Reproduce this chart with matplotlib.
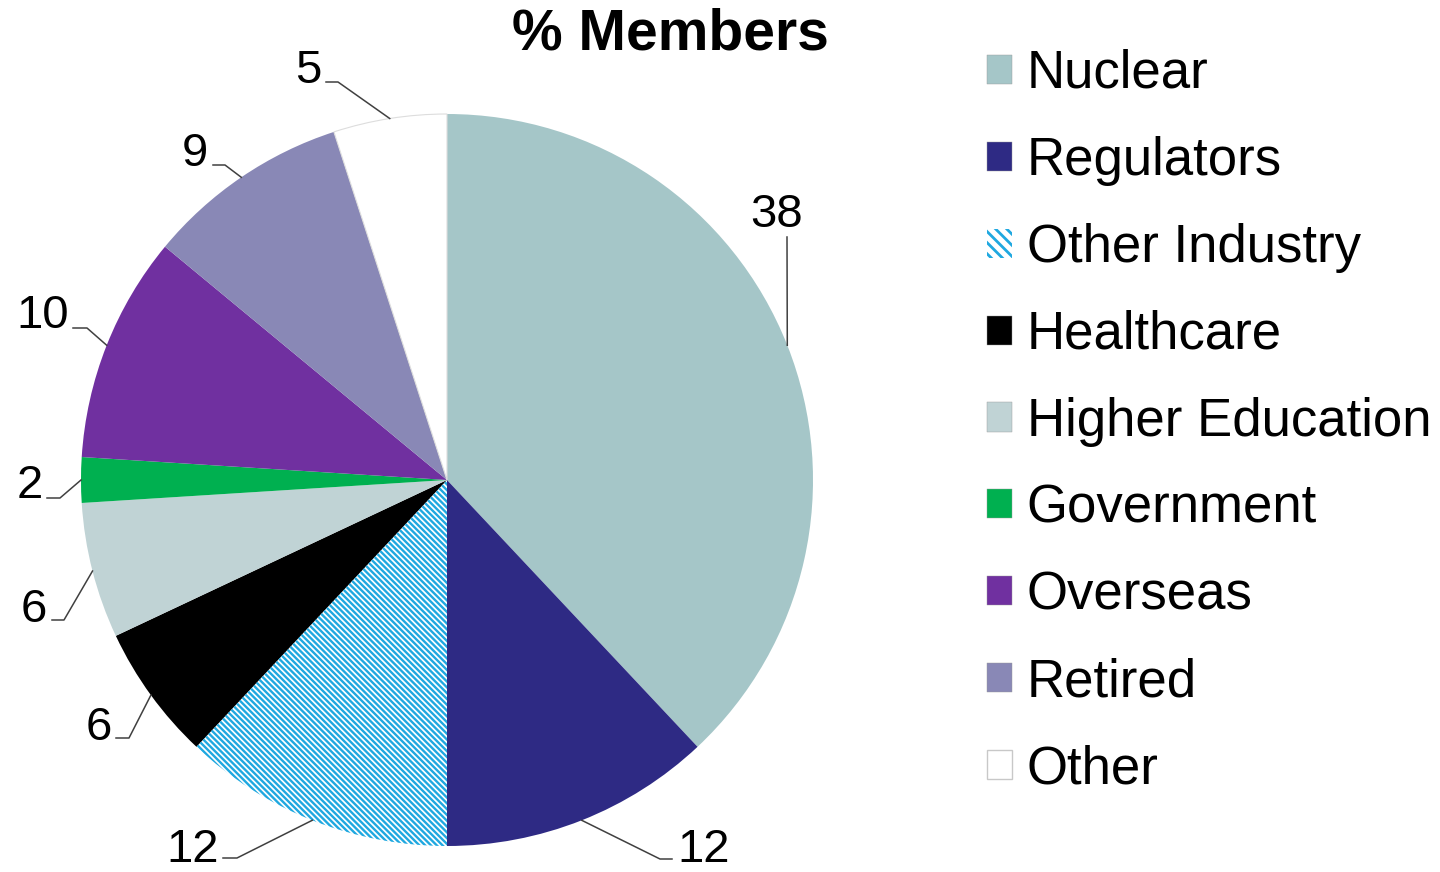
import matplotlib
matplotlib.use("Agg")
import numpy as np
import matplotlib.pyplot as plt
from matplotlib.patches import Patch
from matplotlib.collections import LineCollection

categories = ["Nuclear", "Regulators", "Other Industry", "Healthcare",
              "Higher Education", "Government", "Overseas", "Retired", "Other"]
values = [38, 12, 12, 6, 6, 2, 10, 9, 5]
colors = ["#a5c6c8", "#2e2a84", "white", "#000000", "#c0d3d5",
          "#00b050", "#7030a0", "#8988b6", "white"]
hatch_color = "#1fa8e0"

plt.rcParams["font.family"] = ["Liberation Sans", "DejaVu Sans"]
plt.rcParams["hatch.linewidth"] = 2.0

W, H = 1440, 872
CX, CY, R = 447, 480, 366


def px(x, y):
    # pixel position (from top-left) -> data coords, pie radius = 1
    return (x - CX) / R, (CY - y) / R


# leader layout in pixels: elbow, end of short horizontal, label anchor, alignment
leaders = [
    ((787, 237), None, (777, 227), "center"),
    ((660, 859), (672, 859), (677, 862), "left"),
    ((237, 858), (223, 858), (219, 862), "right"),
    ((129, 738), (116, 738), (112, 740), "right"),
    ((64, 620), (52, 620), (47, 622), "right"),
    ((60, 498), (47, 498), (43, 498), "right"),
    ((87, 328), (73, 328), (69, 328), "right"),
    ((225, 165), (213, 165), (208, 166), "right"),
    ((338, 82), (326, 82), (321, 83), "right"),
]

fig = plt.figure(figsize=(W / 100, H / 100), dpi=100)
ax = fig.add_axes([0, 0, 1, 1])
wedges, _ = ax.pie(values, colors=colors, startangle=90, counterclock=False,
                   radius=1, wedgeprops=dict(linewidth=0))
wedges[8].set_edgecolor("#dddddd")
wedges[8].set_linewidth(0.8)

# diagonal stripes for "Other Industry", clipped to its wedge
step = 5.8 / R
cs = np.arange(-2.5, 2.5, step)
segs = [[(-1.5, c + 1.5), (1.5, c - 1.5)] for c in cs]
stripes = LineCollection(segs, colors=hatch_color, linewidths=1.7)
ax.add_collection(stripes)
stripes.set_clip_path(wedges[2])

x0, y0 = px(0, H)
x1, y1 = px(W, 0)
ax.set_aspect("auto")
ax.set_xlim(x0, x1)
ax.set_ylim(y0, y1)
ax.axis("off")

for w, v, (elbow, end, lab, ha) in zip(wedges, values, leaders):
    ang = np.deg2rad((w.theta1 + w.theta2) / 2)
    pts = [(np.cos(ang), np.sin(ang)), px(*elbow)]
    if end is not None:
        pts.append(px(*end))
    xs, ys = zip(*pts)
    ax.plot(xs, ys, color="#404040", lw=1.1)
    lx, ly = px(*lab)
    ax.text(lx, ly, str(v), ha=ha, va="baseline", fontsize=34)

fig.text(670 / W, 1 - 50 / H, "% Members", ha="center", va="baseline",
         fontsize=41, fontweight="bold")

handles = []
for cat, col in zip(categories, colors):
    if cat == "Other Industry":
        handles.append(Patch(facecolor="white", edgecolor=hatch_color,
                             hatch="\\\\\\", linewidth=0))
    elif col == "white":
        handles.append(Patch(facecolor="white", edgecolor="#c8c8c8", linewidth=1))
    else:
        handles.append(Patch(facecolor=col, edgecolor="#999999", linewidth=0.3))

fig.legend(handles, categories, loc="upper left",
           bbox_to_anchor=(987 / W, 1 - 49 / H), frameon=False, fontsize=38,
           handlelength=0.47, handleheight=0.47, handletextpad=0.28,
           labelspacing=0.70, borderaxespad=0, borderpad=0)

fig.savefig("out.png", dpi=100)
